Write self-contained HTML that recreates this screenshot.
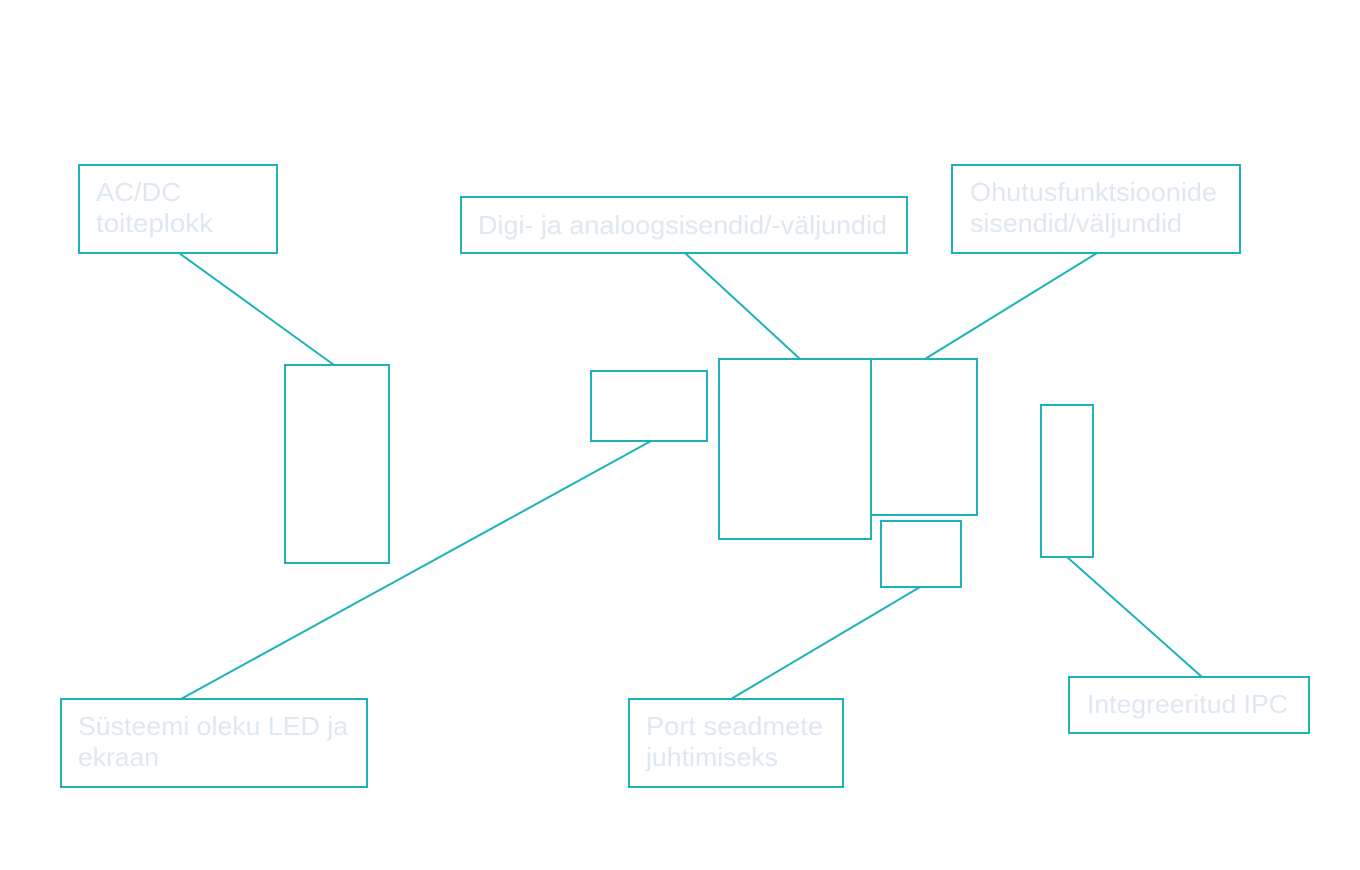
<!DOCTYPE html>
<html>
<head>
<meta charset="utf-8">
<style>
  html, body { margin: 0; padding: 0; background: #ffffff; }
  svg { display: block; }
  text { font-family: "Liberation Sans", "DejaVu Sans", sans-serif; font-size: 26px; fill: #dfe7f0; }
</style>
</head>
<body>
<svg width="1360" height="870" viewBox="0 0 1360 870" xmlns="http://www.w3.org/2000/svg">
  <rect x="0" y="0" width="1360" height="870" fill="#ffffff"/>
  <g stroke="#1bb3b9" stroke-width="2" fill="none">
    <!-- connectors -->
    <line x1="179" y1="253" x2="334" y2="365"/>
    <line x1="685" y1="253" x2="800" y2="359"/>
    <line x1="1097" y1="253" x2="925" y2="359"/>
    <line x1="651" y1="441" x2="181" y2="699"/>
    <line x1="920" y1="587" x2="731" y2="699"/>
    <line x1="1067" y1="557" x2="1202" y2="677"/>
    <!-- label boxes -->
    <rect x="79" y="165" width="198" height="88"/>
    <rect x="461" y="197" width="446" height="56"/>
    <rect x="952" y="165" width="288" height="88"/>
    <rect x="61" y="699" width="306" height="88"/>
    <rect x="629" y="699" width="214" height="88"/>
    <rect x="1069" y="677" width="240" height="56"/>
    <!-- component boxes -->
    <rect x="285" y="365" width="104" height="198"/>
    <rect x="591" y="371" width="116" height="70"/>
    <rect x="719" y="359" width="152" height="180"/>
    <rect x="871" y="359" width="106" height="156"/>
    <rect x="881" y="521" width="80" height="66"/>
    <rect x="1041" y="405" width="52" height="152"/>
  </g>
  <g>
    <text x="96" y="201" textLength="85" lengthAdjust="spacingAndGlyphs">AC/DC</text>
    <text x="96" y="232" textLength="117" lengthAdjust="spacingAndGlyphs">toiteplokk</text>
    <text x="478" y="234" textLength="409" lengthAdjust="spacingAndGlyphs">Digi- ja analoogsisendid/-väljundid</text>
    <text x="970" y="201" textLength="247" lengthAdjust="spacingAndGlyphs">Ohutusfunktsioonide</text>
    <text x="970" y="232" textLength="212" lengthAdjust="spacingAndGlyphs">sisendid/väljundid</text>
    <text x="78" y="735" textLength="270" lengthAdjust="spacingAndGlyphs">Süsteemi oleku LED ja</text>
    <text x="78" y="766" textLength="81" lengthAdjust="spacingAndGlyphs">ekraan</text>
    <text x="646" y="735" textLength="177" lengthAdjust="spacingAndGlyphs">Port seadmete</text>
    <text x="646" y="766" textLength="132" lengthAdjust="spacingAndGlyphs">juhtimiseks</text>
    <text x="1087" y="713" textLength="201" lengthAdjust="spacingAndGlyphs">Integreeritud IPC</text>
  </g>
</svg>
</body>
</html>
